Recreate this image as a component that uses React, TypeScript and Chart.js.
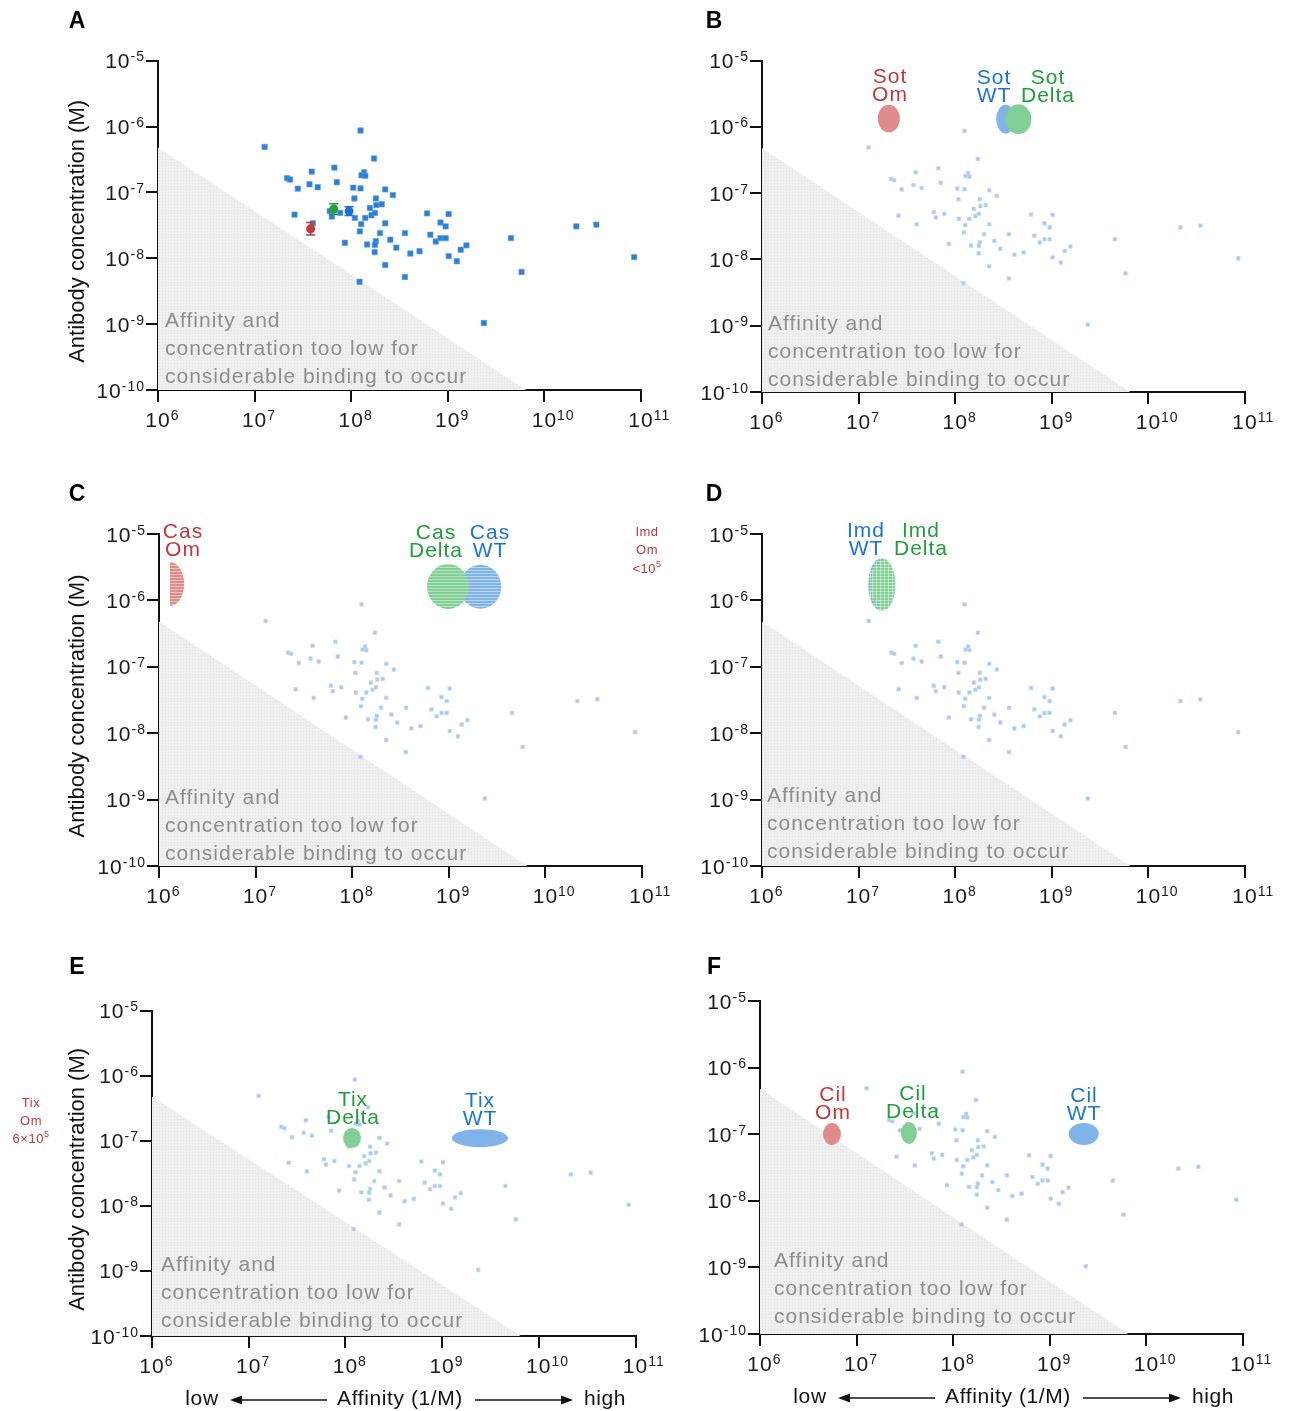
import React, { useEffect, useRef } from 'react';
import { Chart, registerables } from 'chart.js';

Chart.register(...registerables);

const FONT = '"Liberation Sans", Arial, Helvetica, sans-serif';

// ---------------- data ----------------
const X_TICKS = [1e6, 1e7, 1e8, 1e9, 1e10, 1e11];
const Y_TICKS = [1e-10, 1e-9, 1e-8, 1e-7, 1e-6, 1e-5];

// antibody affinity (1/M) and concentration (M)
const antibodyAffinity = [
  1.27e7, 1.25e8, 1.72e8, 3.9e7, 6.7e7, 2.17e7, 2.33e7, 2.8e7, 3.7e7, 4.5e7,
  7.1e7, 1.36e8, 1.28e8, 1.4e8, 1.05e8, 1.25e8, 2.25e8, 2.7e8, 1.08e8, 1.8e8,
  1.82e8, 2.07e8, 1.56e8, 6.0e7, 7.7e7, 6.3e7, 1.09e8, 1.4e8, 1.62e8, 1.76e8,
  2.59e7, 4.0e7, 1.27e8, 2.25e8, 1.23e8, 1.99e8, 3.6e8, 6.1e8, 1.02e9, 8.4e8,
  9.5e8, 6.6e8, 7.5e8, 8.4e8, 9.5e8, 1.8e8, 1.76e8, 1.46e8, 2.54e8, 2.93e8,
  4.1e8, 5.1e8, 8.6e7, 1.75e8, 2.25e8, 3.6e8, 1.22e8, 1.56e9, 1.36e9, 1.02e9,
  1.24e9, 4.5e9, 5.8e9, 2.14e10, 3.45e10, 8.5e10, 2.36e9,
];
const antibodyConcentration = [
  4.9e-7, 8.7e-7, 3.27e-7, 2.07e-7, 2.38e-7, 1.64e-7, 1.57e-7, 1.14e-7, 1.33e-7, 1.2e-7,
  1.43e-7, 2.02e-7, 1.82e-7, 1.78e-7, 1.18e-7, 1.15e-7, 1.11e-7, 9.1e-8, 8.1e-8, 8.1e-8,
  6.4e-8, 6.6e-8, 5.8e-8, 5.2e-8, 4.9e-8, 4.3e-8, 4.1e-8, 4.1e-8, 4.5e-8, 4.9e-8,
  4.6e-8, 3.4e-8, 3.3e-8, 3.4e-8, 2.56e-8, 2.41e-8, 2.41e-8, 4.8e-8, 4.7e-8, 3.5e-8,
  3.05e-8, 2.28e-8, 1.8e-8, 2.02e-8, 2.02e-8, 1.82e-8, 1.6e-8, 1.62e-8, 1.91e-8, 1.45e-8,
  1.18e-8, 1.28e-8, 1.72e-8, 1.24e-8, 7.9e-9, 5.2e-9, 4.4e-9, 1.57e-8, 1.35e-8, 1.08e-8,
  9.0e-9, 2.02e-8, 6.2e-9, 3.05e-8, 3.24e-8, 1.04e-8, 1.04e-9,
];

// boundary of the "too low for binding" region
const thresholdAffinity = [1e6, 6.5e9];
const thresholdConcentration = [4.8e-7, 1e-10];

// reference points with error bars (panel A)
const referenceVariants = ['Delta', 'WT', 'Om'];
const referenceAffinity = [6.6e7, 9.5e7, 3.8e7];
const referenceConcentration = [5.6e-8, 5.2e-8, 2.8e-8];
const referenceConcLow = [4.66e-8, 4.45e-8, 2.25e-8];
const referenceConcHigh = [6.73e-8, 6.08e-8, 3.49e-8];

// variant regions per antibody
const sotVariants = ['WT', 'Delta', 'Om'];
const sotAffinityRange = [[2.66e8, 4.18e8], [3.32e8, 6.15e8], [1.58e7, 2.67e7]];
const sotConcentrationRange = [[7.96e-7, 2.16e-6], [7.8e-7, 2.2e-6], [8.24e-7, 2.17e-6]];

const casVariants = ['Om', 'WT', 'Delta'];
const casAffinityRange = [[1.3e6, 1.82e6], [1.3e9, 3.49e9], [5.96e8, 1.62e9]];
const casConcentrationRange = [[8.24e-7, 3.78e-6], [7.5e-7, 3.43e-6], [7.4e-7, 3.52e-6]];

const imdVariants = ['WT', 'Delta'];
const imdAffinityRange = [[1.26e7, 2.29e7], [1.32e7, 2.4e7]];
const imdConcentrationRange = [[7.03e-7, 4.28e-6], [7.03e-7, 4.28e-6]];

const tixVariants = ['Delta', 'WT'];
const tixAffinityRange = [[9.44e7, 1.45e8], [1.26e9, 4.81e9]];
const tixConcentrationRange = [[7.73e-8, 1.57e-7], [8.0e-8, 1.51e-7]];

const cilVariants = ['Om', 'Delta', 'WT'];
const cilAffinityRange = [[4.49e6, 6.89e6], [2.87e7, 4.21e7], [1.57e9, 3.21e9]];
const cilConcentrationRange = [[6.89e-8, 1.47e-7], [7.13e-8, 1.52e-7], [6.89e-8, 1.47e-7]];

// ---------------- styles ----------------
const TEXT_COLOR: Record<string, string> = { Om: '#c4383a', WT: '#1b74d0', Delta: '#1f9e3c' };
const FILL_COLOR: Record<string, string> = { Om: '#df8c8c', WT: '#80b4e8', Delta: '#82cf95' };
const POINT_COLOR: Record<string, string> = { Om: '#c43a3a', WT: '#1f6fd0', Delta: '#22a03c' };

type Region = { variant: string; ax: number[]; cy: number[]; half?: boolean };
type Label = { lines: string[]; color: string; x: number; y: number; size: number; gap: number };
type Panel = {
  letter: string;
  canvas: number[]; // page left, top, width, height
  area: number[]; // page L, T, R, B of plot area
  letterPos: number[];
  yTitle: boolean;
  bottomTitle: boolean;
  faded: boolean;
  refs: boolean;
  regions: Region[];
  hatch: 'none' | 'h' | 'grid';
  labels: Label[];
  gray: number[];
};

function regionsOf(variants: string[], ax: number[][], cy: number[][], halfFor?: string): Region[] {
  return variants.map((v, i) => ({ variant: v, ax: ax[i], cy: cy[i], half: v === halfFor }));
}

function lbl(lines: string[], variant: string, x: number, y: number): Label {
  return { lines, color: TEXT_COLOR[variant], x, y, size: 21, gap: 18 };
}

const PANELS: Panel[] = [
  {
    letter: 'A', canvas: [0, 0, 700, 470], area: [158, 60.7, 641, 390], letterPos: [77, 22],
    yTitle: true, bottomTitle: false, faded: false, refs: true, regions: [], hatch: 'none', labels: [],
    gray: [165, 321],
  },
  {
    letter: 'B', canvas: [660, 0, 635, 470], area: [762, 60.7, 1245, 392], letterPos: [714, 22],
    yTitle: false, bottomTitle: false, faded: true, refs: false,
    regions: regionsOf(sotVariants, sotAffinityRange, sotConcentrationRange), hatch: 'none',
    labels: [lbl(['Sot', 'Om'], 'Om', 890, 77), lbl(['Sot', 'WT'], 'WT', 994, 78), lbl(['Sot', 'Delta'], 'Delta', 1048, 78)],
    gray: [768, 324],
  },
  {
    letter: 'C', canvas: [0, 470, 700, 475], area: [159, 534, 642, 866], letterPos: [77, 495],
    yTitle: true, bottomTitle: false, faded: true, refs: false,
    regions: regionsOf(casVariants, casAffinityRange, casConcentrationRange, 'Om'), hatch: 'h',
    labels: [
      lbl(['Cas', 'Om'], 'Om', 183, 532.5), lbl(['Cas', 'Delta'], 'Delta', 436, 533), lbl(['Cas', 'WT'], 'WT', 490, 533),
      { lines: ['Imd', 'Om', '<10^5'], color: TEXT_COLOR.Om, x: 647, y: 532, size: 13, gap: 18.5 },
    ],
    gray: [165, 798],
  },
  {
    letter: 'D', canvas: [660, 470, 635, 475], area: [762, 534, 1245, 866], letterPos: [714, 495],
    yTitle: false, bottomTitle: false, faded: true, refs: false,
    regions: regionsOf(imdVariants, imdAffinityRange, imdConcentrationRange), hatch: 'grid',
    labels: [lbl(['Imd', 'WT'], 'WT', 866, 531), lbl(['Imd', 'Delta'], 'Delta', 921, 531)],
    gray: [767, 796],
  },
  {
    letter: 'E', canvas: [0, 945, 700, 466], area: [152, 1010.7, 635.5, 1336], letterPos: [77, 968],
    yTitle: true, bottomTitle: true, faded: true, refs: false,
    regions: regionsOf(tixVariants, tixAffinityRange, tixConcentrationRange), hatch: 'none',
    labels: [
      lbl(['Tix', 'Delta'], 'Delta', 353, 1100), lbl(['Tix', 'WT'], 'WT', 480, 1101),
      { lines: ['Tix', 'Om', '6×10^5'], color: TEXT_COLOR.Om, x: 31, y: 1103, size: 13, gap: 18 },
    ],
    gray: [161, 1265],
  },
  {
    letter: 'F', canvas: [660, 945, 635, 466], area: [760, 1001, 1243, 1334], letterPos: [714, 968],
    yTitle: false, bottomTitle: true, faded: true, refs: false,
    regions: regionsOf(cilVariants, cilAffinityRange, cilConcentrationRange), hatch: 'none',
    labels: [lbl(['Cil', 'Om'], 'Om', 833, 1095), lbl(['Cil', 'Delta'], 'Delta', 913, 1094), lbl(['Cil', 'WT'], 'WT', 1084, 1096)],
    gray: [774, 1261],
  },
];

// ---------------- drawing helpers ----------------
function setSpacing(ctx: any, v: string) {
  if ('letterSpacing' in ctx) ctx.letterSpacing = v;
}

function drawPower(ctx: CanvasRenderingContext2D, exp: string, x: number, y: number, mode: 'right' | 'center') {
  ctx.save();
  ctx.fillStyle = '#1a1a1a';
  ctx.textAlign = 'left';
  ctx.textBaseline = 'alphabetic';
  setSpacing(ctx, '1px');
  ctx.font = `21px ${FONT}`;
  const wBase = ctx.measureText('10').width;
  ctx.font = `14px ${FONT}`;
  const wExp = ctx.measureText(exp).width;
  const start = mode === 'right' ? x - wBase - wExp : x - wBase / 2;
  const baseY = y + 7.5;
  ctx.font = `21px ${FONT}`;
  ctx.fillText('10', start, baseY);
  ctx.font = `14px ${FONT}`;
  ctx.fillText(exp, start + wBase, baseY - 7);
  ctx.restore();
}

function drawLines(ctx: CanvasRenderingContext2D, l: Label, ox: number, oy: number) {
  ctx.save();
  ctx.fillStyle = l.color;
  ctx.textBaseline = 'middle';
  setSpacing(ctx, l.size > 16 ? '1px' : '0.5px');
  l.lines.forEach((line, i) => {
    const y = l.y + i * l.gap - oy;
    const parts = line.split('^');
    ctx.font = `${l.size}px ${FONT}`;
    const w1 = ctx.measureText(parts[0]).width;
    let w2 = 0;
    if (parts[1]) {
      ctx.font = `${Math.round(l.size * 0.7)}px ${FONT}`;
      w2 = ctx.measureText(parts[1]).width;
    }
    const start = l.x - ox - (w1 + w2) / 2;
    ctx.textAlign = 'left';
    ctx.font = `${l.size}px ${FONT}`;
    ctx.fillText(parts[0], start, y);
    if (parts[1]) {
      ctx.font = `${Math.round(l.size * 0.7)}px ${FONT}`;
      ctx.fillText(parts[1], start + w1, y - l.size * 0.35);
    }
  });
  ctx.restore();
}

function drawArrow(ctx: CanvasRenderingContext2D, xTail: number, xHead: number, y: number) {
  const dir = xHead > xTail ? 1 : -1;
  ctx.save();
  ctx.strokeStyle = '#111';
  ctx.fillStyle = '#111';
  ctx.lineWidth = 1.3;
  ctx.beginPath();
  ctx.moveTo(xTail, y);
  ctx.lineTo(xHead - dir * 8, y);
  ctx.stroke();
  ctx.beginPath();
  ctx.moveTo(xHead, y);
  ctx.lineTo(xHead - dir * 12, y - 4.5);
  ctx.lineTo(xHead - dir * 12, y + 4.5);
  ctx.closePath();
  ctx.fill();
  ctx.restore();
}

function makePattern(ctx: CanvasRenderingContext2D) {
  const c = document.createElement('canvas');
  c.width = 3;
  c.height = 3;
  const g = c.getContext('2d')!;
  g.fillStyle = '#efefef';
  g.fillRect(0, 0, 3, 3);
  g.fillStyle = '#e2e2e2';
  g.fillRect(0, 0, 1, 1);
  return ctx.createPattern(c, 'repeat') || '#ececec';
}

function makePlugin(p: Panel) {
  const [ox, oy] = p.canvas;
  return {
    id: 'panelDecor' + p.letter,
    afterDatasetsDraw(chart: any) {
      const ctx: CanvasRenderingContext2D = chart.ctx;
      const xs = chart.scales.x;
      const ys = chart.scales.y;
      // gray annotation inside the shaded region
      ctx.save();
      ctx.fillStyle = '#8e8e8e';
      ctx.font = `21px ${FONT}`;
      ctx.textBaseline = 'middle';
      ctx.textAlign = 'left';
      setSpacing(ctx, '1px');
      ['Affinity and', 'concentration too low for', 'considerable binding to occur'].forEach((t, i) => {
        ctx.fillText(t, p.gray[0] - ox, p.gray[1] + i * 28 - oy);
      });
      ctx.restore();

      // error bars for reference points
      if (p.refs) {
        ctx.save();
        referenceAffinity.forEach((a, i) => {
          const x = xs.getPixelForValue(a);
          const y1 = ys.getPixelForValue(referenceConcLow[i]);
          const y2 = ys.getPixelForValue(referenceConcHigh[i]);
          ctx.strokeStyle = POINT_COLOR[referenceVariants[i]];
          ctx.lineWidth = 1.5;
          ctx.beginPath();
          ctx.moveTo(x, y1);
          ctx.lineTo(x, y2);
          ctx.moveTo(x - 4.5, y1);
          ctx.lineTo(x + 4.5, y1);
          ctx.moveTo(x - 4.5, y2);
          ctx.lineTo(x + 4.5, y2);
          ctx.stroke();
        });
        ctx.restore();
      }

      // variant regions
      p.regions.forEach((r) => {
        const x1 = xs.getPixelForValue(r.ax[0]);
        const x2 = xs.getPixelForValue(r.ax[1]);
        const y1 = ys.getPixelForValue(r.cy[0]);
        const y2 = ys.getPixelForValue(r.cy[1]);
        const cyp = (y1 + y2) / 2;
        const ry = Math.abs(y1 - y2) / 2;
        ctx.save();
        ctx.beginPath();
        if (r.half) {
          ctx.ellipse(x1, cyp, Math.abs(x2 - x1), ry, 0, -Math.PI / 2, Math.PI / 2);
        } else {
          ctx.ellipse((x1 + x2) / 2, cyp, Math.abs(x2 - x1) / 2, ry, 0, 0, Math.PI * 2);
        }
        ctx.closePath();
        ctx.fillStyle = FILL_COLOR[r.variant];
        ctx.fill();
        if (p.hatch !== 'none') {
          ctx.clip();
          ctx.strokeStyle = 'rgba(255,255,255,0.45)';
          ctx.lineWidth = 1;
          ctx.beginPath();
          for (let yy = Math.floor(cyp - ry); yy < cyp + ry; yy += 3) {
            ctx.moveTo(Math.min(x1, x2) - 30, yy + 0.5);
            ctx.lineTo(Math.max(x1, x2) + 30, yy + 0.5);
          }
          if (p.hatch === 'grid') {
            for (let xx = Math.floor(Math.min(x1, x2)) - 30; xx < Math.max(x1, x2) + 30; xx += 4) {
              ctx.moveTo(xx + 0.5, cyp - ry - 2);
              ctx.lineTo(xx + 0.5, cyp + ry + 2);
            }
          }
          ctx.stroke();
        }
        ctx.restore();
      });
    },
    afterDraw(chart: any) {
      const ctx: CanvasRenderingContext2D = chart.ctx;
      const xs = chart.scales.x;
      const ys = chart.scales.y;
      const area = chart.chartArea;
      // tick labels
      Y_TICKS.forEach((v) => {
        drawPower(ctx, String(Math.round(Math.log10(v))), area.left - 13, ys.getPixelForValue(v), 'right');
      });
      X_TICKS.forEach((v) => {
        drawPower(ctx, String(Math.round(Math.log10(v))), xs.getPixelForValue(v), area.bottom + 29, 'center');
      });
      // labels
      p.labels.forEach((l) => drawLines(ctx, l, ox, oy));
      // panel letter
      ctx.save();
      ctx.fillStyle = '#000';
      ctx.font = `bold 23px ${FONT}`;
      ctx.textAlign = 'center';
      ctx.textBaseline = 'middle';
      ctx.fillText(p.letter, p.letterPos[0] - ox, p.letterPos[1] - oy);
      ctx.restore();
      // y axis title
      if (p.yTitle) {
        ctx.save();
        ctx.fillStyle = '#111';
        ctx.font = `22px ${FONT}`;
        ctx.textAlign = 'center';
        ctx.textBaseline = 'middle';
        ctx.translate(78 - ox, (area.top + area.bottom) / 2 + 6);
        ctx.rotate(-Math.PI / 2);
        ctx.fillText('Antibody concentration (M)', 0, 0);
        ctx.restore();
      }
      // bottom axis title
      if (p.bottomTitle) {
        const L = area.left;
        const y = area.bottom + 63;
        ctx.save();
        ctx.fillStyle = '#111';
        ctx.font = `21px ${FONT}`;
        ctx.textAlign = 'center';
        ctx.textBaseline = 'middle';
        setSpacing(ctx, '0.6px');
        ctx.fillText('low', L + 50, y);
        ctx.fillText('Affinity (1/M)', L + 248, y);
        ctx.fillText('high', L + 453, y);
        ctx.restore();
        drawArrow(ctx, L + 175, L + 78, y + 1);
        drawArrow(ctx, L + 323, L + 421, y + 1);
      }
    },
  };
}

function PanelChart({ p }: { p: Panel }) {
  const ref = useRef<HTMLCanvasElement>(null);
  useEffect(() => {
    const canvas = ref.current!;
    const ctx = canvas.getContext('2d')!;
    const [cx, cy, cw, ch] = p.canvas;
    const [L, T, R, B] = p.area;
    const yW = L - cx;
    const padTop = T - cy;
    const padRight = cx + cw - R;
    const xH = cy + ch - B;

    const points = antibodyAffinity.map((a, i) => ({ x: a, y: antibodyConcentration[i] }));
    const datasets: any[] = [];
    if (p.refs) {
      referenceVariants.forEach((v, i) => {
        datasets.push({
          type: 'scatter',
          label: v,
          data: [{ x: referenceAffinity[i], y: referenceConcentration[i] }],
          pointStyle: 'circle',
          pointRadius: 4.5,
          backgroundColor: POINT_COLOR[v],
          borderColor: POINT_COLOR[v],
          borderWidth: 0,
        });
      });
    }
    datasets.push({
      type: 'scatter',
      label: 'antibodies',
      data: points,
      pointStyle: 'rect',
      pointRadius: p.faded ? 2.6 : 3.8,
      backgroundColor: p.faded ? '#aacaec' : '#2d7fd4',
      borderColor: p.faded ? '#c9ddf3' : '#5d9de0',
      borderWidth: 0.6,
    });
    datasets.push({
      type: 'line',
      label: 'threshold',
      data: thresholdAffinity.map((a, i) => ({ x: a, y: thresholdConcentration[i] })),
      fill: 'start',
      backgroundColor: makePattern(ctx),
      borderColor: 'rgba(0,0,0,0)',
      borderWidth: 0,
      pointRadius: 0,
    });

    const axisCommon = {
      type: 'logarithmic' as const,
      ticks: { display: false },
      grid: { display: true, drawOnChartArea: false, drawTicks: true, tickLength: 12, color: '#111', lineWidth: 2 },
      border: { display: true, color: '#111', width: 2 },
    };

    const chart = new Chart(canvas, {
      type: 'scatter',
      data: { datasets },
      options: {
        responsive: false,
        animation: false,
        devicePixelRatio: 1,
        layout: { padding: { left: 0, top: padTop, right: padRight, bottom: 0 } },
        plugins: { legend: { display: false }, tooltip: { enabled: false } },
        scales: {
          x: {
            ...axisCommon,
            position: 'bottom',
            min: 1e6,
            max: 1e11,
            afterBuildTicks: (s: any) => {
              s.ticks = X_TICKS.map((v) => ({ value: v }));
            },
            afterFit: (s: any) => {
              s.height = xH;
            },
          },
          y: {
            ...axisCommon,
            position: 'left',
            min: 1e-10,
            max: 1e-5,
            afterBuildTicks: (s: any) => {
              s.ticks = Y_TICKS.map((v) => ({ value: v }));
            },
            afterFit: (s: any) => {
              s.width = yW;
            },
          },
        },
      } as any,
      plugins: [makePlugin(p) as any],
    });
    return () => chart.destroy();
  }, [p]);
  const [cx, cy, cw, ch] = p.canvas;
  return (
    <canvas
      ref={ref}
      width={cw}
      height={ch}
      style={{ position: 'absolute', left: cx, top: cy, width: cw, height: ch }}
    />
  );
}

export default function App() {
  return (
    <div style={{ position: 'absolute', left: 0, top: 0, width: 1295, height: 1411, background: '#fff', overflow: 'hidden' }}>
      {PANELS.map((p) => (
        <PanelChart key={p.letter} p={p} />
      ))}
    </div>
  );
}
